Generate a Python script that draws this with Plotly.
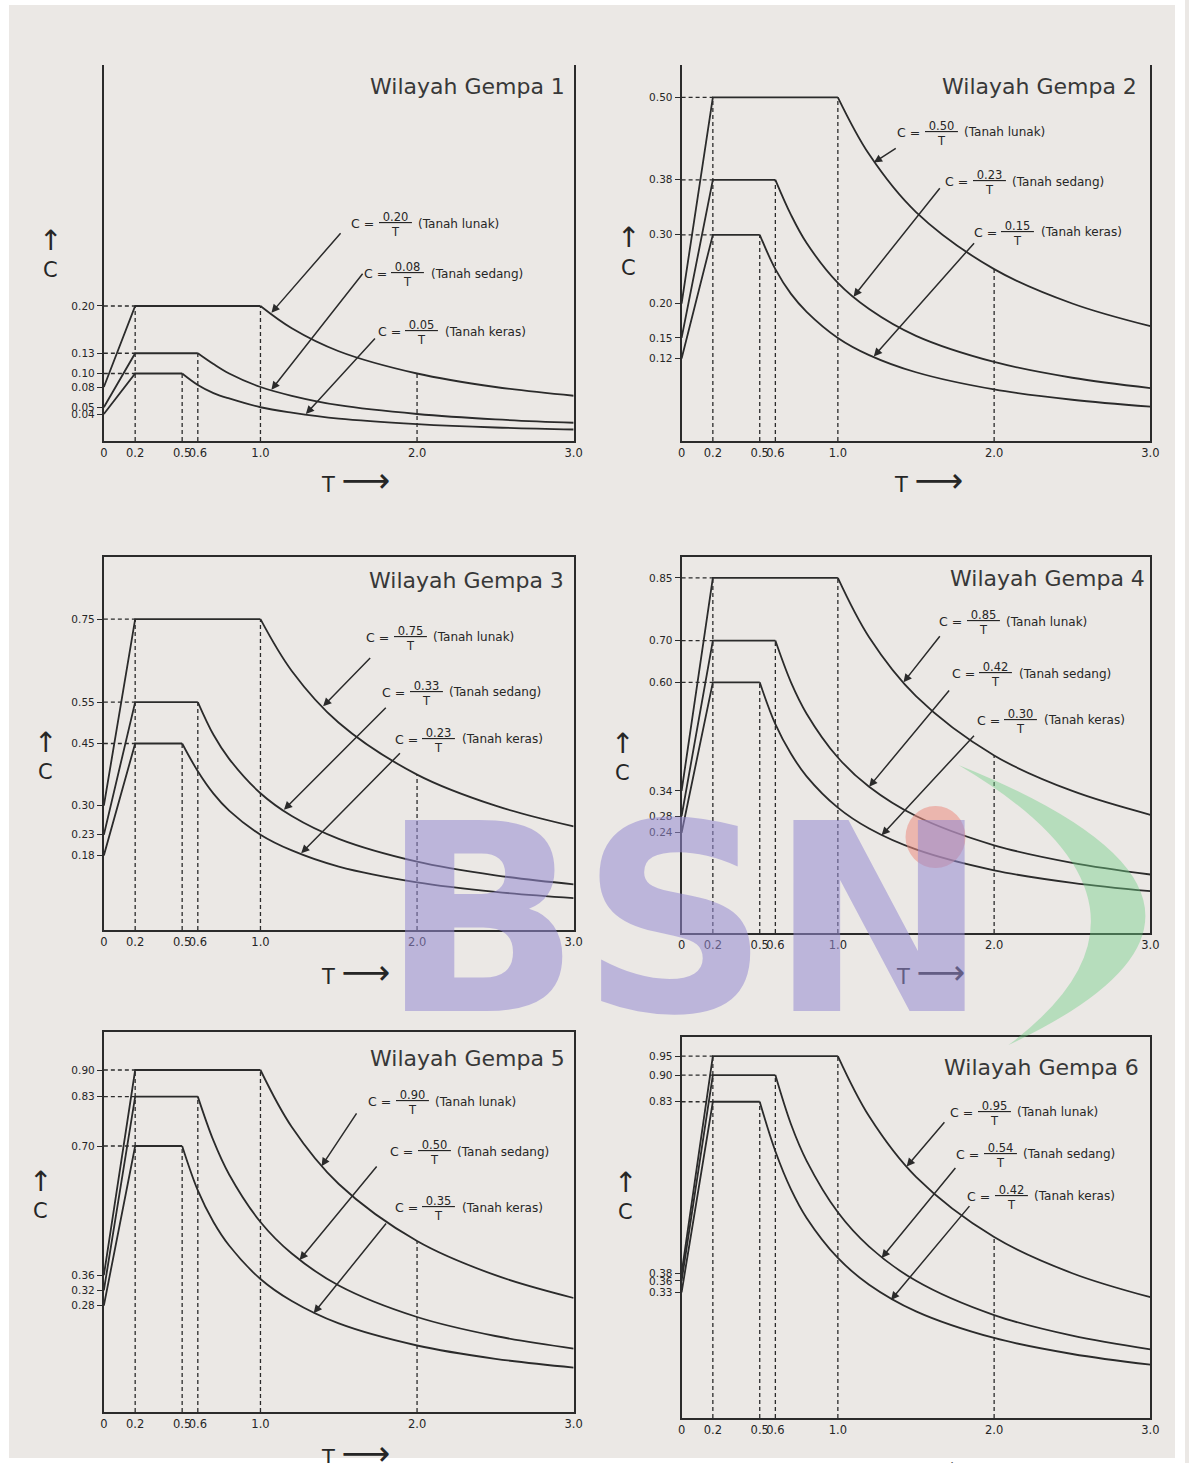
import plotly.graph_objects as go

# ---------------- data ----------------
SOILS = ["Tanah keras", "Tanah sedang", "Tanah lunak"]
TC = [0.5, 0.6, 1.0]          # corner periods (keras, sedang, lunak)
T_START = 0.0
T_PEAK = 0.2
T_GUIDE = 2.0
T_DECAY_KERAS = [0.5, 0.6, 0.7, 0.8, 1.0, 1.2, 1.5, 2.0, 2.5, 3.0]
T_DECAY_SEDANG = [0.6, 0.7, 0.8, 1.0, 1.2, 1.5, 2.0, 2.5, 3.0]
T_DECAY_LUNAK = [1.0, 1.2, 1.5, 2.0, 2.5, 3.0]
T_DECAY = [T_DECAY_KERAS, T_DECAY_SEDANG, T_DECAY_LUNAK]

X_TICKS = [0, 0.2, 0.5, 0.6, 1.0, 2.0, 3.0]
X_TICK_TEXT = ["0", "0.2", "0.5", "0.6", "1.0", "2.0", "3.0"]

TITLES = ["Wilayah Gempa 1", "Wilayah Gempa 2", "Wilayah Gempa 3",
          "Wilayah Gempa 4", "Wilayah Gempa 5", "Wilayah Gempa 6"]

# Wilayah Gempa 1
C0_1 = [0.04, 0.05, 0.08]
PEAK_1 = [0.10, 0.13, 0.20]
COEF_1 = ["0.05", "0.08", "0.20"]
KERAS_1 = [0.10, 0.083, 0.071, 0.063, 0.05, 0.042, 0.033, 0.025, 0.02, 0.017]
SEDANG_1 = [0.13, 0.114, 0.10, 0.08, 0.067, 0.053, 0.04, 0.032, 0.027]
LUNAK_1 = [0.20, 0.167, 0.133, 0.10, 0.08, 0.067]
YTICKS_1 = [0.20, 0.13, 0.10, 0.08, 0.05, 0.04]

# Wilayah Gempa 2
C0_2 = [0.12, 0.15, 0.20]
PEAK_2 = [0.30, 0.38, 0.50]
COEF_2 = ["0.15", "0.23", "0.50"]
KERAS_2 = [0.30, 0.25, 0.214, 0.188, 0.15, 0.125, 0.10, 0.075, 0.06, 0.05]
SEDANG_2 = [0.38, 0.329, 0.288, 0.23, 0.192, 0.153, 0.115, 0.092, 0.077]
LUNAK_2 = [0.50, 0.417, 0.333, 0.25, 0.20, 0.167]
YTICKS_2 = [0.50, 0.38, 0.30, 0.20, 0.15, 0.12]

# Wilayah Gempa 3
C0_3 = [0.18, 0.23, 0.30]
PEAK_3 = [0.45, 0.55, 0.75]
COEF_3 = ["0.23", "0.33", "0.75"]
KERAS_3 = [0.45, 0.383, 0.329, 0.288, 0.23, 0.192, 0.153, 0.115, 0.092, 0.077]
SEDANG_3 = [0.55, 0.471, 0.413, 0.33, 0.275, 0.22, 0.165, 0.132, 0.11]
LUNAK_3 = [0.75, 0.625, 0.50, 0.375, 0.30, 0.25]
YTICKS_3 = [0.75, 0.55, 0.45, 0.30, 0.23, 0.18]

# Wilayah Gempa 4
C0_4 = [0.24, 0.28, 0.34]
PEAK_4 = [0.60, 0.70, 0.85]
COEF_4 = ["0.30", "0.42", "0.85"]
KERAS_4 = [0.60, 0.50, 0.429, 0.375, 0.30, 0.25, 0.20, 0.15, 0.12, 0.10]
SEDANG_4 = [0.70, 0.60, 0.525, 0.42, 0.35, 0.28, 0.21, 0.168, 0.14]
LUNAK_4 = [0.85, 0.708, 0.567, 0.425, 0.34, 0.283]
YTICKS_4 = [0.85, 0.70, 0.60, 0.34, 0.28, 0.24]

# Wilayah Gempa 5
C0_5 = [0.28, 0.32, 0.36]
PEAK_5 = [0.70, 0.83, 0.90]
COEF_5 = ["0.35", "0.50", "0.90"]
KERAS_5 = [0.70, 0.583, 0.50, 0.438, 0.35, 0.292, 0.233, 0.175, 0.14, 0.117]
SEDANG_5 = [0.83, 0.714, 0.625, 0.50, 0.417, 0.333, 0.25, 0.20, 0.167]
LUNAK_5 = [0.90, 0.75, 0.60, 0.45, 0.36, 0.30]
YTICKS_5 = [0.90, 0.83, 0.70, 0.36, 0.32, 0.28]

# Wilayah Gempa 6
C0_6 = [0.33, 0.36, 0.38]
PEAK_6 = [0.83, 0.90, 0.95]
COEF_6 = ["0.42", "0.54", "0.95"]
KERAS_6 = [0.83, 0.70, 0.60, 0.525, 0.42, 0.35, 0.28, 0.21, 0.168, 0.14]
SEDANG_6 = [0.90, 0.771, 0.675, 0.54, 0.45, 0.36, 0.27, 0.216, 0.18]
LUNAK_6 = [0.95, 0.792, 0.633, 0.475, 0.38, 0.317]
YTICKS_6 = [0.95, 0.90, 0.83, 0.38, 0.36, 0.33]

# ---------------- layout helpers ----------------
W, H = 1189, 1463
LINE = "#2b2b2b"
TXT = "#262626"
BG = "#ebe8e5"
FONT = "DejaVu Sans"


def px(x):
    # horizontal page position (target pixels, corrected for the page's rendered width)
    return ((x - 3.1) / 0.9895) / W


def py(y):
    return 1 - y / H


panels = [
    dict(c0=C0_1, peak=PEAK_1, coef=COEF_1, dec=[KERAS_1, SEDANG_1, LUNAK_1], yt=YTICKS_1,
         xdom=[103, 573], ydom=[441, 65], yr=[0, 0.557], box=False,
         title=(2.96, 0.525),
         lab=[(2.03, 0.160), (1.94, 0.246), (1.86, 0.320)],
         arr=[((1.74, 0.154), (1.29, 0.040)), ((1.66, 0.25), (1.07, 0.076)), ((1.52, 0.31), (1.07, 0.19))],
         ylab=(50, 255), xlab=(355, 480)),
    dict(c0=C0_2, peak=PEAK_2, coef=COEF_2, dec=[KERAS_2, SEDANG_2, LUNAK_2], yt=YTICKS_2,
         xdom=[681, 1150], ydom=[441, 65], yr=[0, 0.547], box=False,
         title=(2.93, 0.515),
         lab=[(2.15, 0.302), (1.97, 0.376), (1.66, 0.448)],
         arr=[((1.88, 0.29), (1.23, 0.123)), ((1.66, 0.37), (1.10, 0.21)), ((1.38, 0.427), (1.23, 0.405))],
         ylab=(628, 253), xlab=(928, 480)),
    dict(c0=C0_3, peak=PEAK_3, coef=COEF_3, dec=[KERAS_3, SEDANG_3, LUNAK_3], yt=YTICKS_3,
         xdom=[103, 573], ydom=[930, 557], yr=[0, 0.90], box=True,
         title=(2.95, 0.843),
         lab=[(2.14, 0.458), (2.06, 0.571), (1.955, 0.704)],
         arr=[((1.90, 0.43), (1.26, 0.185)), ((1.81, 0.54), (1.15, 0.29)), ((1.71, 0.66), (1.40, 0.54))],
         ylab=(45, 757), xlab=(355, 972)),
    dict(c0=C0_4, peak=PEAK_4, coef=COEF_4, dec=[KERAS_4, SEDANG_4, LUNAK_4], yt=YTICKS_4,
         xdom=[681, 1150], ydom=[933, 557], yr=[0, 0.90], box=True,
         title=(2.98, 0.849),
         lab=[(2.17, 0.507), (2.01, 0.618), (1.93, 0.743)],
         arr=[((1.88, 0.476), (1.28, 0.234)), ((1.72, 0.584), (1.20, 0.35)), ((1.66, 0.714), (1.42, 0.60))],
         ylab=(622, 758), xlab=(930, 972)),
    dict(c0=C0_5, peak=PEAK_5, coef=COEF_5, dec=[KERAS_5, SEDANG_5, LUNAK_5], yt=YTICKS_5,
         xdom=[103, 573], ydom=[1412, 1032], yr=[0, 1.0], box=True,
         title=(2.96, 0.93),
         lab=[(2.14, 0.535), (2.11, 0.682), (1.97, 0.814)],
         arr=[((1.81, 0.50), (1.34, 0.26)), ((1.75, 0.65), (1.25, 0.40)), ((1.62, 0.79), (1.39, 0.647))],
         ylab=(40, 1196), xlab=(355, 1453)),
    dict(c0=C0_6, peak=PEAK_6, coef=COEF_6, dec=[KERAS_6, SEDANG_6, LUNAK_6], yt=YTICKS_6,
         xdom=[681, 1150], ydom=[1418, 1037], yr=[0, 1.0], box=True,
         title=(2.94, 0.92),
         lab=[(2.11, 0.58), (2.04, 0.69), (2.00, 0.80)],
         arr=[((1.85, 0.56), (1.34, 0.31)), ((1.76, 0.66), (1.28, 0.42)), ((1.69, 0.78), (1.44, 0.66))],
         ylab=(625, 1197), xlab=(925, 1468)),
]

fig = go.Figure()
annotations = []
shapes = []

DASH = dict(color=LINE, width=1.3, dash="4px,3px")

for i, p in enumerate(panels):
    n = "" if i == 0 else str(i + 1)
    xa, ya = "x" + n, "y" + n

    def line_trace(x, y, line):
        return go.Scatter(x=x, y=y, mode="lines", line=line, xaxis=xa, yaxis=ya,
                          hoverinfo="skip", showlegend=False)

    # dashed guides
    for s in range(3):
        fig.add_trace(line_trace([T_START, T_PEAK], [p["peak"][s], p["peak"][s]], DASH))
        fig.add_trace(line_trace([TC[s], TC[s]], [0, p["peak"][s]], DASH))
    fig.add_trace(line_trace([T_PEAK, T_PEAK], [0, max(p["peak"])], DASH))
    g = T_DECAY_LUNAK.index(T_GUIDE)
    fig.add_trace(line_trace([T_GUIDE, T_GUIDE], [0, p["dec"][2][g]], DASH))

    # spectra
    for s in range(3):
        fig.add_trace(line_trace([T_START, T_PEAK, TC[s]], [p["c0"][s], p["peak"][s], p["peak"][s]],
                                 dict(color=LINE, width=1.8)))
        fig.add_trace(line_trace(T_DECAY[s], p["dec"][s],
                                 dict(color=LINE, width=1.8, shape="spline", smoothing=1.0)))

    x0, x1 = p["xdom"]
    yb, yt = p["ydom"]
    fig.layout["xaxis" + n] = dict(
        domain=[px(x0), px(x1)], range=[0, 3.0], anchor=ya,
        showline=True, linecolor=LINE, linewidth=2, mirror=p["box"],
        tickvals=X_TICKS, ticktext=X_TICK_TEXT, ticks="", tickangle=0,
        showgrid=False, zeroline=False,
        tickfont=dict(family=FONT, size=11.5, color=TXT), fixedrange=True)
    fig.layout["yaxis" + n] = dict(
        domain=[py(yb), py(yt)], range=p["yr"], anchor=xa,
        showline=True, linecolor=LINE, linewidth=2, mirror=True,
        tickvals=p["yt"], ticktext=["%.2f" % v for v in p["yt"]],
        ticks="outside", ticklen=5, tickwidth=1, tickcolor=LINE, tickangle=0,
        showgrid=False, zeroline=False,
        tickfont=dict(family=FONT, size=10.5, color=TXT), fixedrange=True)

    # title
    annotations.append(dict(x=p["title"][0], y=p["title"][1], xref=xa, yref=ya,
                            text=TITLES[i], showarrow=False, xanchor="right", yanchor="middle",
                            font=dict(family=FONT, size=22, color="#383838")))
    # formula labels
    for s in range(3):
        fx, fy = p["lab"][s]
        annotations.append(dict(x=fx, y=fy, xref=xa, yref=ya, showarrow=False,
                                text="<u>&nbsp;" + p["coef"][s] + "&nbsp;</u><br>T", align="center",
                                xanchor="center", yanchor="middle",
                                font=dict(family=FONT, size=11.5, color=TXT)))
        annotations.append(dict(x=fx, y=fy, xref=xa, yref=ya, showarrow=False,
                                text="C =", xanchor="right", yanchor="middle", xshift=-19, yshift=1,
                                font=dict(family=FONT, size=12.5, color=TXT)))
        annotations.append(dict(x=fx, y=fy, xref=xa, yref=ya, showarrow=False,
                                text="(" + SOILS[s] + ")", xanchor="left", yanchor="middle",
                                xshift=21, yshift=1,
                                font=dict(family=FONT, size=12, color=TXT)))
        (sx, sy), (ex, ey) = p["arr"][s]
        annotations.append(dict(x=ex, y=ey, xref=xa, yref=ya, ax=sx, ay=sy, axref=xa, ayref=ya,
                                text="", showarrow=True, arrowhead=2, arrowsize=1.1,
                                arrowwidth=1.5, arrowcolor=LINE))
    # axis labels
    lx, ly = p["ylab"]
    annotations.append(dict(x=px(lx), y=py(ly - 15), xref="paper", yref="paper", showarrow=False,
                            xanchor="center", yanchor="middle",
                            text="↑", font=dict(family=FONT, size=28, color=TXT)))
    annotations.append(dict(x=px(lx), y=py(ly + 15), xref="paper", yref="paper", showarrow=False,
                            xanchor="center", yanchor="middle",
                            text="C", font=dict(family=FONT, size=21, color=TXT)))
    lx, ly = p["xlab"]
    annotations.append(dict(x=px(lx), y=py(ly), xref="paper", yref="paper", showarrow=False,
                            xanchor="center", yanchor="middle",
                            text="T <span style='font-size:34px'>⟶</span>",
                            font=dict(family=FONT, size=21, color=TXT)))

# ---------------- watermark (BSN logo) ----------------
shapes.append(dict(type="path", xref="paper", yref="paper", layer="above",
                   path="M {:.4f},{:.4f} Q {:.4f},{:.4f} {:.4f},{:.4f} Q {:.4f},{:.4f} {:.4f},{:.4f} Z".format(
                       px(958), py(765), px(1305), py(905), px(1008), py(1045),
                       px(1195), py(905), px(958), py(765)),
                   fillcolor="rgba(110,205,130,0.42)", line=dict(width=0)))
shapes.append(dict(type="circle", xref="paper", yref="paper", layer="above",
                   x0=px(905), x1=px(965), y0=py(868), y1=py(806),
                   fillcolor="rgba(235,140,130,0.55)", line=dict(width=0)))
annotations.append(dict(x=px(684), y=py(920), xref="paper", yref="paper", showarrow=False,
                        xanchor="center", yanchor="middle",
                        text="<b>BSN</b>",
                        font=dict(family="DejaVu Sans", size=262, color="rgba(150,138,210,0.55)")))

# outer white frame
shapes.append(dict(type="rect", xref="paper", yref="paper", x0=0, x1=1, y0=0, y1=1,
                   line=dict(color="#ffffff", width=10), layer="below"))

fig.update_layout(width=W, height=H, autosize=False, margin=dict(l=0, r=0, t=0, b=0),
                  paper_bgcolor=BG, plot_bgcolor="rgba(0,0,0,0)",
                  annotations=annotations, shapes=shapes, showlegend=False)

fig.write_html("out.html",
               config={"displayModeBar": False, "responsive": False},
               post_script="document.documentElement.style.overflow='hidden';"
                           "document.body.style.margin='0';document.body.style.overflow='hidden';")
